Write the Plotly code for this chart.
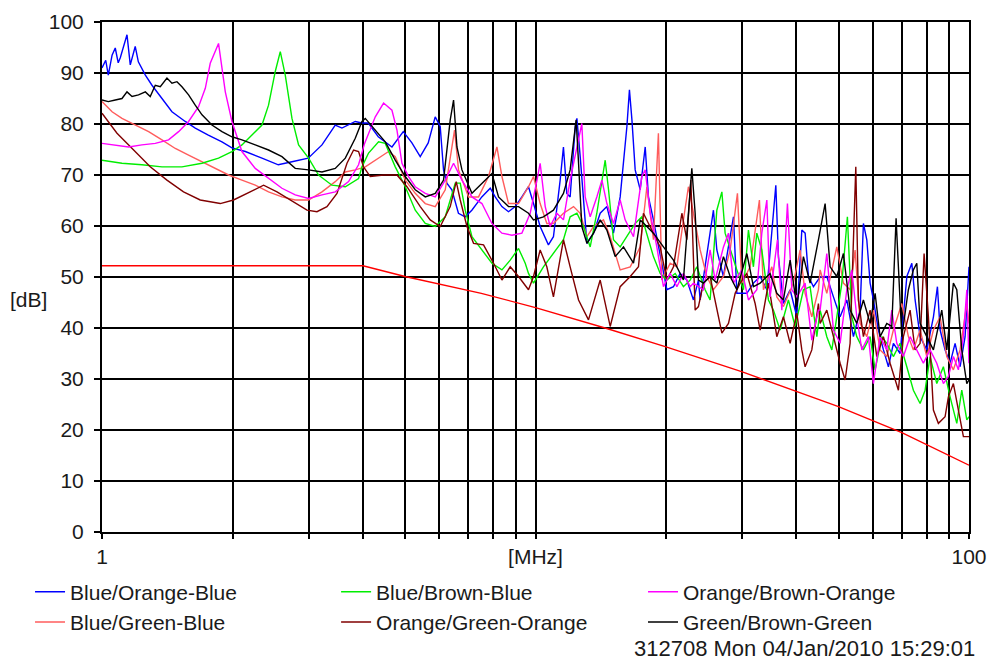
import plotly.graph_objects as go

# ---------------- data (frequency in MHz, level in dB) ----------------
f_blue = [1.000, 1.020, 1.034, 1.055, 1.073, 1.090, 1.102, 1.125, 1.142, 1.162, 1.180, 1.193, 1.213, 1.235,
          1.259, 1.304, 1.375, 1.450, 1.556, 1.641, 1.759, 1.891, 1.994, 2.141, 2.339, 2.551, 2.743, 2.990,
          3.217, 3.452, 3.577, 3.839, 3.978, 4.114, 4.338, 4.665, 4.954, 5.187, 5.421, 5.656, 5.870, 6.028,
          6.135, 6.245, 6.413, 6.641, 6.882, 7.131, 7.518, 7.864, 8.074, 8.366, 8.664, 8.977, 9.302, 9.635,
          9.895, 10.25, 10.71, 11.00, 11.40, 11.60, 11.81, 12.02, 12.35, 12.46, 12.68, 13.14, 13.61, 14.10,
          14.61, 15.13, 15.68, 16.25, 16.47, 16.69, 16.98, 17.44, 17.91, 18.22, 18.71, 19.39, 20.09, 20.81,
          21.56, 22.34, 23.14, 23.76, 23.98, 25.73, 26.20, 27.13, 28.62, 29.14, 30.73, 31.83, 32.98, 34.17,
          35.84, 36.34, 37.32, 38.67, 40.07, 41.15, 41.88, 42.62, 43.77, 45.35, 46.99, 48.67, 50.43, 52.26,
          54.12, 56.08, 57.07, 58.11, 59.14, 60.19, 61.80, 63.48, 65.18, 66.93, 69.36, 71.88, 73.81, 75.11,
          77.14, 79.93, 82.79, 84.56, 85.78, 88.10, 90.46, 92.88, 95.39, 97.95, 100.0]
db_blue = [91.0, 92.5, 89.6, 93.5, 94.9, 92.0, 93.0, 95.5, 97.5, 91.6, 94.0, 95.2, 92.2, 91.0,
           89.6, 87.6, 85.1, 82.4, 80.5, 79.2, 77.8, 76.5, 75.3, 74.6, 73.3, 72.0, 72.6, 73.3,
           75.9, 79.8, 79.2, 80.5, 80.2, 80.2, 77.5, 75.5, 78.5, 76.3, 73.6, 76.3, 81.4, 79.5,
           71.0, 68.4, 67.1, 62.5, 61.8, 63.1, 65.7, 67.4, 65.7, 63.8, 62.8, 63.8, 65.7, 67.7,
           64.4, 59.9, 56.3, 57.9, 69.0, 75.5, 66.4, 65.7, 79.5, 81.1, 73.6, 56.6, 58.6, 62.5,
           63.8, 58.6, 65.7, 79.5, 86.7, 80.8, 71.0, 67.1, 75.5, 65.7, 61.2, 54.6, 47.5, 48.1,
           50.7, 49.4, 45.5, 49.4, 45.5, 63.1, 55.3, 50.1, 61.8, 46.8, 46.8, 48.8, 50.1, 47.5,
           68.0, 54.0, 44.8, 47.5, 42.2, 59.2, 58.6, 50.1, 48.1, 50.0, 50.1, 46.1, 42.2, 45.5,
           38.3, 43.5, 60.5, 57.3, 48.8, 45.5, 39.6, 35.7, 32.4, 37.0, 35.0, 50.1, 52.7, 45.5,
           38.3, 35.7, 42.2, 48.1, 39.6, 35.7, 33.1, 37.0, 32.4, 38.3, 52.0]

f_salmon = [1.000, 1.055, 1.112, 1.193, 1.281, 1.375, 1.476, 1.584, 1.701, 1.825, 1.959, 2.103, 2.257, 2.422,
            2.601, 2.791, 2.996, 3.217, 3.452, 3.641, 3.839, 4.049, 4.270, 4.582, 4.748, 5.007, 5.280, 5.568,
            5.871, 6.192, 6.505, 6.645, 7.007, 7.389, 7.792, 8.148, 8.367, 8.665, 9.138, 9.635, 9.895, 10.25,
            10.62, 11.00, 11.60, 12.24, 12.68, 13.14, 13.61, 14.35, 14.87, 15.68, 16.54, 17.44, 18.07, 18.71,
            19.21, 19.56, 20.45, 21.19, 21.94, 22.53, 23.14, 23.98, 24.84, 25.73, 27.14, 28.12, 29.23, 29.92,
            31.27, 32.85, 33.56, 35.09, 36.03, 37.32, 39.35, 40.78, 41.87, 43.39, 44.94, 45.35, 46.99, 49.55,
            51.32, 53.18, 54.61, 56.08, 58.11, 60.18, 62.36, 64.62, 66.92, 69.98, 72.47, 74.42, 77.12, 79.91,
            82.77, 85.76, 88.87, 92.04, 95.38, 98.84, 100.0]
db_salmon = [84.4, 82.4, 81.1, 79.8, 78.5, 76.9, 75.2, 73.9, 72.6, 71.3, 70.0, 69.0, 68.0, 66.7,
             65.7, 65.1, 65.1, 66.7, 68.7, 70.6, 71.0, 71.6, 72.9, 74.6, 73.6, 69.0, 66.4, 64.4,
             63.8, 67.1, 78.8, 71.0, 65.7, 65.7, 69.7, 75.5, 69.7, 64.4, 64.4, 67.7, 69.7, 64.4,
             60.5, 60.5, 62.5, 63.8, 62.5, 57.9, 59.9, 61.2, 57.9, 51.4, 52.0, 55.9, 67.7, 57.3,
             78.2, 49.4, 52.7, 52.0, 61.2, 67.7, 62.5, 55.3, 50.1, 47.5, 50.1, 55.3, 66.4, 48.8,
             52.0, 65.1, 47.5, 52.0, 46.1, 44.2, 48.8, 55.3, 46.8, 42.2, 47.5, 51.4, 46.8, 55.9,
             48.8, 47.5, 55.3, 40.9, 38.3, 43.5, 35.7, 34.4, 39.6, 44.8, 38.3, 35.7, 39.6, 34.4,
             39.6, 42.2, 34.4, 31.8, 35.7, 44.8, 40.9]

f_green = [1.000, 1.112, 1.236, 1.375, 1.529, 1.701, 1.857, 1.994, 2.103, 2.218, 2.339, 2.422, 2.510, 2.578,
           2.647, 2.743, 2.841, 2.996, 3.159, 3.392, 3.641, 3.907, 3.978, 4.120, 4.345, 4.502, 4.748, 5.007,
           5.280, 5.568, 5.871, 6.192, 6.529, 6.705, 6.885, 7.135, 7.524, 7.934, 8.367, 8.744, 9.138, 9.469,
           9.635, 9.895, 10.43, 11.00, 11.60, 12.02, 12.46, 12.90, 13.37, 13.85, 14.48, 14.74, 15.13, 15.68,
           16.25, 16.98, 17.59, 18.07, 18.71, 19.39, 20.09, 21.00, 21.94, 22.74, 23.56, 24.62, 25.28, 26.20,
           26.91, 27.38, 28.12, 29.14, 30.18, 30.99, 31.82, 32.40, 33.27, 34.46, 35.39, 36.67, 38.32, 39.71,
           41.50, 43.00, 44.56, 45.35, 46.99, 48.26, 49.55, 50.89, 52.42, 53.66, 55.10, 57.07, 59.14, 60.73,
           62.93, 64.62, 66.92, 69.35, 71.86, 74.42, 77.12, 79.20, 81.33, 84.27, 87.28, 90.44, 93.72, 96.24,
           98.84, 100.0]
db_green = [72.9, 72.3, 72.0, 71.6, 71.6, 72.3, 73.3, 74.6, 75.9, 77.8, 79.8, 83.7, 90.3, 94.2,
            89.6, 81.1, 75.9, 73.3, 70.0, 68.0, 67.7, 69.3, 71.6, 74.3, 76.5, 76.2, 71.6, 67.7,
            63.1, 60.5, 59.9, 61.8, 68.4, 68.4, 63.1, 57.9, 55.3, 52.7, 51.4, 53.3, 55.6, 52.7,
            50.7, 48.8, 52.0, 54.6, 57.3, 61.8, 62.5, 59.9, 55.9, 62.5, 72.9, 67.1, 57.3, 55.9,
            57.9, 60.5, 61.8, 58.6, 54.0, 50.7, 49.4, 50.7, 48.1, 49.4, 52.0, 47.5, 45.5, 63.1,
            66.7, 58.6, 55.3, 51.4, 47.5, 59.2, 52.0, 58.6, 55.3, 45.5, 43.5, 39.6, 45.5, 40.3,
            47.5, 48.1, 38.3, 43.5, 38.3, 35.7, 42.2, 48.8, 61.8, 42.2, 38.3, 35.7, 38.3, 31.8,
            38.3, 37.0, 34.4, 37.0, 32.4, 27.8, 25.2, 27.8, 34.4, 29.1, 32.4, 26.5, 21.3, 27.8,
            22.0, 22.6]

f_brown = [1.000, 1.083, 1.183, 1.292, 1.412, 1.542, 1.685, 1.874, 2.011, 2.160, 2.359, 2.533, 2.718, 2.971,
           3.132, 3.303, 3.484, 3.674, 3.805, 3.907, 4.012, 4.158, 4.462, 4.791, 5.052, 5.422, 5.717, 6.029,
           6.358, 6.564, 6.705, 6.948, 7.196, 7.588, 8.002, 8.367, 8.744, 9.138, 9.635, 9.895, 10.25, 10.62,
           11.00, 11.60, 12.02, 12.57, 13.25, 14.10, 14.87, 15.68, 16.54, 17.28, 17.74, 18.39, 19.39, 20.09,
           20.81, 21.76, 22.34, 22.82, 23.35, 23.76, 24.40, 25.28, 25.96, 26.91, 27.87, 28.88, 29.65, 30.73,
           32.11, 32.98, 34.46, 36.03, 37.32, 38.67, 40.07, 41.15, 41.87, 43.39, 44.94, 45.35, 46.99, 48.67,
           50.43, 51.79, 53.18, 54.81, 55.57, 57.07, 59.14, 61.28, 63.46, 65.76, 68.73, 70.57, 73.13, 75.10,
           77.12, 78.78, 80.60, 82.77, 84.99, 88.07, 89.63, 92.04, 94.52, 97.07, 100.0]
db_brown = [82.1, 78.2, 74.9, 71.6, 69.0, 66.7, 65.1, 64.4, 65.1, 66.4, 68.0, 66.7, 65.1, 63.1,
            62.8, 63.8, 66.4, 72.3, 74.9, 74.6, 71.6, 69.7, 70.0, 70.0, 67.7, 63.8, 61.2, 59.9,
            63.8, 68.7, 65.1, 59.9, 56.6, 56.3, 52.7, 49.4, 52.0, 50.1, 47.5, 50.1, 55.3, 52.0,
            46.1, 57.3, 52.0, 45.5, 41.6, 49.4, 40.3, 48.1, 50.1, 52.0, 62.5, 59.9, 55.9, 49.4,
            52.0, 62.5, 57.3, 69.0, 43.5, 44.2, 48.8, 50.1, 45.5, 39.0, 40.9, 46.8, 48.8, 50.7,
            44.8, 39.6, 48.8, 38.3, 42.2, 37.0, 42.9, 35.7, 32.4, 35.7, 44.8, 40.9, 43.5, 38.3,
            33.1, 29.8, 37.0, 71.6, 45.5, 38.3, 43.5, 34.4, 38.3, 33.1, 27.8, 38.3, 43.5, 35.7,
            37.0, 54.6, 42.2, 23.9, 21.3, 22.6, 26.5, 29.1, 23.9, 18.7, 18.7]

f_magenta = [1.000, 1.073, 1.152, 1.236, 1.327, 1.424, 1.502, 1.584, 1.670, 1.731, 1.777, 1.857, 1.925, 1.994,
             2.103, 2.257, 2.422, 2.601, 2.791, 2.996, 3.217, 3.452, 3.705, 3.907, 4.034, 4.270, 4.462, 4.665,
             4.791, 4.920, 5.095, 5.280, 5.568, 5.871, 6.192, 6.471, 6.766, 7.135, 7.524, 7.934, 8.367, 8.823,
             9.304, 9.723, 10.08, 10.25, 10.53, 10.81, 11.20, 11.60, 12.02, 12.46, 12.79, 13.02, 13.37, 13.85,
             14.23, 14.61, 15.13, 15.68, 16.10, 16.83, 17.59, 17.91, 18.39, 19.05, 19.73, 20.45, 21.19, 21.94,
             22.74, 23.14, 24.40, 25.28, 25.96, 27.14, 27.87, 28.62, 29.92, 30.99, 32.40, 33.27, 34.17, 34.77,
             36.15, 37.00, 38.12, 39.02, 40.07, 41.87, 43.39, 44.94, 45.35, 46.99, 48.67, 50.43, 52.26, 53.66,
             55.10, 56.59, 58.61, 60.18, 62.36, 64.62, 66.36, 68.14, 70.57, 73.13, 75.78, 78.48, 81.33, 84.27,
             87.28, 89.63, 92.04, 94.52, 97.07, 98.84, 100.0]
db_magenta = [76.2, 75.9, 75.5, 75.9, 76.2, 76.9, 78.5, 80.5, 83.4, 87.0, 91.9, 95.8, 86.3, 80.5,
              74.6, 71.3, 69.3, 67.4, 66.1, 65.4, 66.1, 66.7, 68.7, 72.0, 76.2, 81.4, 84.1, 82.7,
              78.8, 72.3, 69.7, 67.7, 66.4, 65.7, 69.0, 72.3, 69.0, 65.7, 64.4, 60.5, 58.6, 58.2,
              58.6, 62.5, 69.0, 72.3, 63.8, 59.9, 62.5, 61.2, 69.0, 75.5, 80.1, 65.7, 61.8, 65.7,
              69.0, 64.4, 60.5, 65.1, 61.2, 57.9, 69.7, 71.0, 62.5, 55.9, 48.1, 50.7, 48.1, 50.7,
              48.1, 48.8, 47.5, 55.3, 49.4, 55.9, 58.6, 48.8, 51.4, 45.5, 47.5, 58.6, 65.1, 46.1,
              57.3, 43.5, 64.4, 47.5, 46.1, 48.8, 37.6, 43.5, 43.5, 54.6, 39.6, 37.0, 47.5, 51.4,
              42.2, 35.7, 38.3, 29.1, 38.3, 35.7, 43.5, 37.0, 34.4, 38.3, 35.7, 33.1, 35.7, 33.1,
              29.1, 30.5, 34.4, 31.8, 38.3, 47.5, 33.1]

f_black = [1.000, 1.034, 1.073, 1.112, 1.142, 1.173, 1.214, 1.259, 1.292, 1.327, 1.363, 1.412, 1.450, 1.489,
           1.529, 1.584, 1.641, 1.701, 1.793, 1.891, 1.994, 2.103, 2.257, 2.422, 2.601, 2.791, 2.996, 3.217,
           3.452, 3.641, 3.839, 3.978, 4.049, 4.270, 4.502, 4.748, 5.007, 5.280, 5.568, 5.871, 6.136, 6.358,
           6.471, 6.589, 6.766, 7.135, 7.524, 7.934, 8.217, 8.665, 9.138, 9.635, 9.895, 10.43, 11.00, 11.60,
           12.02, 12.24, 12.41, 12.57, 12.79, 13.14, 13.61, 14.10, 14.61, 15.27, 15.96, 16.83, 17.44, 18.07,
           18.71, 19.73, 20.81, 21.94, 22.94, 23.35, 23.76, 24.40, 25.28, 26.20, 27.14, 28.12, 29.14, 30.73,
           31.82, 32.98, 34.77, 36.03, 37.32, 38.67, 40.07, 41.50, 43.00, 44.94, 46.57, 47.82, 49.55, 51.32,
           53.18, 55.10, 57.07, 59.14, 60.73, 62.36, 64.62, 66.36, 67.89, 68.73, 69.98, 72.47, 74.42, 75.78,
           77.12, 79.91, 82.77, 86.54, 88.87, 92.04, 93.72, 96.24, 98.84, 100.0]
db_black = [84.7, 84.4, 84.7, 85.0, 86.3, 85.4, 85.7, 86.3, 85.4, 87.6, 87.3, 89.0, 88.0, 88.3,
            87.3, 85.7, 83.7, 81.8, 79.8, 78.5, 77.5, 76.9, 75.9, 74.9, 73.6, 71.3, 71.0, 70.6,
            71.3, 73.3, 77.2, 80.5, 81.1, 78.8, 76.5, 72.9, 69.7, 67.1, 65.7, 66.4, 69.0, 80.8,
            84.7, 75.5, 71.0, 66.4, 68.4, 70.3, 65.7, 63.8, 63.8, 62.5, 61.2, 61.8, 63.1, 66.4,
            71.0, 76.2, 80.8, 72.3, 59.9, 56.6, 58.6, 61.2, 59.2, 54.0, 55.9, 52.7, 61.2, 59.9,
            58.6, 55.9, 53.3, 49.4, 71.3, 62.5, 49.4, 48.8, 50.1, 48.8, 54.0, 50.1, 47.5, 54.6,
            48.1, 48.8, 50.7, 46.8, 45.5, 53.3, 44.2, 54.0, 48.8, 57.3, 64.4, 52.0, 50.1, 54.6,
            43.5, 40.9, 45.5, 40.9, 46.8, 38.3, 40.9, 40.3, 61.5, 52.0, 38.3, 47.5, 51.4, 52.7,
            40.9, 38.3, 35.7, 43.5, 35.7, 48.8, 47.5, 35.7, 29.1, 29.8]

f_limit = [1.0, 4.0, 5.0, 7.5, 10.0, 14.6, 20.0, 30.0, 50.0, 70.0, 100.0]
db_limit = [52.2, 52.2, 50.1, 46.8, 44.0, 39.9, 36.3, 31.4, 24.6, 19.5, 13.1]

x_tickvals = [1, 2, 3, 4, 5, 6, 7, 8, 9, 10, 20, 30, 40, 50, 60, 70, 80, 90, 100]
x_ticktext = ["1", "", "", "", "", "", "", "", "", "[MHz]", "", "", "", "", "", "", "", "", "100"]
y_tickvals = [0, 10, 20, 30, 40, 50, 60, 70, 80, 90, 100]

series = [
    ("Blue/Orange-Blue", f_blue, db_blue, "#0000ff", "legend"),
    ("Blue/Green-Blue", f_salmon, db_salmon, "#ff5c5c", "legend"),
    ("Blue/Brown-Blue", f_green, db_green, "#00ee00", "legend2"),
    ("Orange/Green-Orange", f_brown, db_brown, "#800000", "legend2"),
    ("Orange/Brown-Orange", f_magenta, db_magenta, "#ff00ff", "legend3"),
    ("Green/Brown-Green", f_black, db_black, "#000000", "legend3"),
]

FONT = "Arial, 'Liberation Sans', sans-serif"
fig = go.Figure()
for name, fx, fy, col, lg in series:
    fig.add_trace(go.Scatter(x=fx, y=fy, mode="lines", name=name, legend=lg,
                             line=dict(color=col, width=1.4)))
fig.add_trace(go.Scatter(x=f_limit, y=db_limit, mode="lines", showlegend=False,
                         line=dict(color="#ff0000", width=1.4)))

leg_common = dict(xanchor="left", yanchor="top", bgcolor="rgba(0,0,0,0)",
                  font=dict(size=21), tracegroupgap=0, borderwidth=0)
fig.update_layout(
    width=994, height=672,
    margin=dict(l=102, r=25, t=22, b=140, autoexpand=False),
    paper_bgcolor="white", plot_bgcolor="white",
    font=dict(family=FONT, size=21, color="#1a1a1a"),
    xaxis=dict(type="log", range=[0, 2], tickmode="array", tickvals=x_tickvals, ticktext=x_ticktext,
               showgrid=True, gridcolor="black", gridwidth=2, zeroline=False, automargin=False,
               showline=True, linecolor="black", linewidth=2, mirror=True,
               ticks="outside", ticklen=5, tickwidth=2, tickcolor="black", tickangle=0),
    yaxis=dict(range=[0, 100], tickmode="array", tickvals=y_tickvals, automargin=False,
               showgrid=True, gridcolor="black", gridwidth=2, zeroline=False,
               showline=True, linecolor="black", linewidth=2, mirror=True,
               ticks="outside", ticklen=6, tickwidth=2, tickcolor="black", ticklabelstandoff=6),
    legend=dict(x=-0.083, y=-0.0775, **leg_common),
    legend2=dict(x=0.270, y=-0.0775, **leg_common),
    legend3=dict(x=0.624, y=-0.0775, **leg_common),
    annotations=[
        dict(text="[dB]", xref="paper", yref="y", x=-0.085, y=45.5, showarrow=False,
             xanchor="center", yanchor="middle", font=dict(size=21)),
        dict(text="312708 Mon 04/Jan/2010 15:29:01", xref="paper", yref="paper", x=1.0092, y=-0.2275,
             showarrow=False, xanchor="right", yanchor="middle", font=dict(size=22)),
    ],
)

fig.write_html("out.html")
